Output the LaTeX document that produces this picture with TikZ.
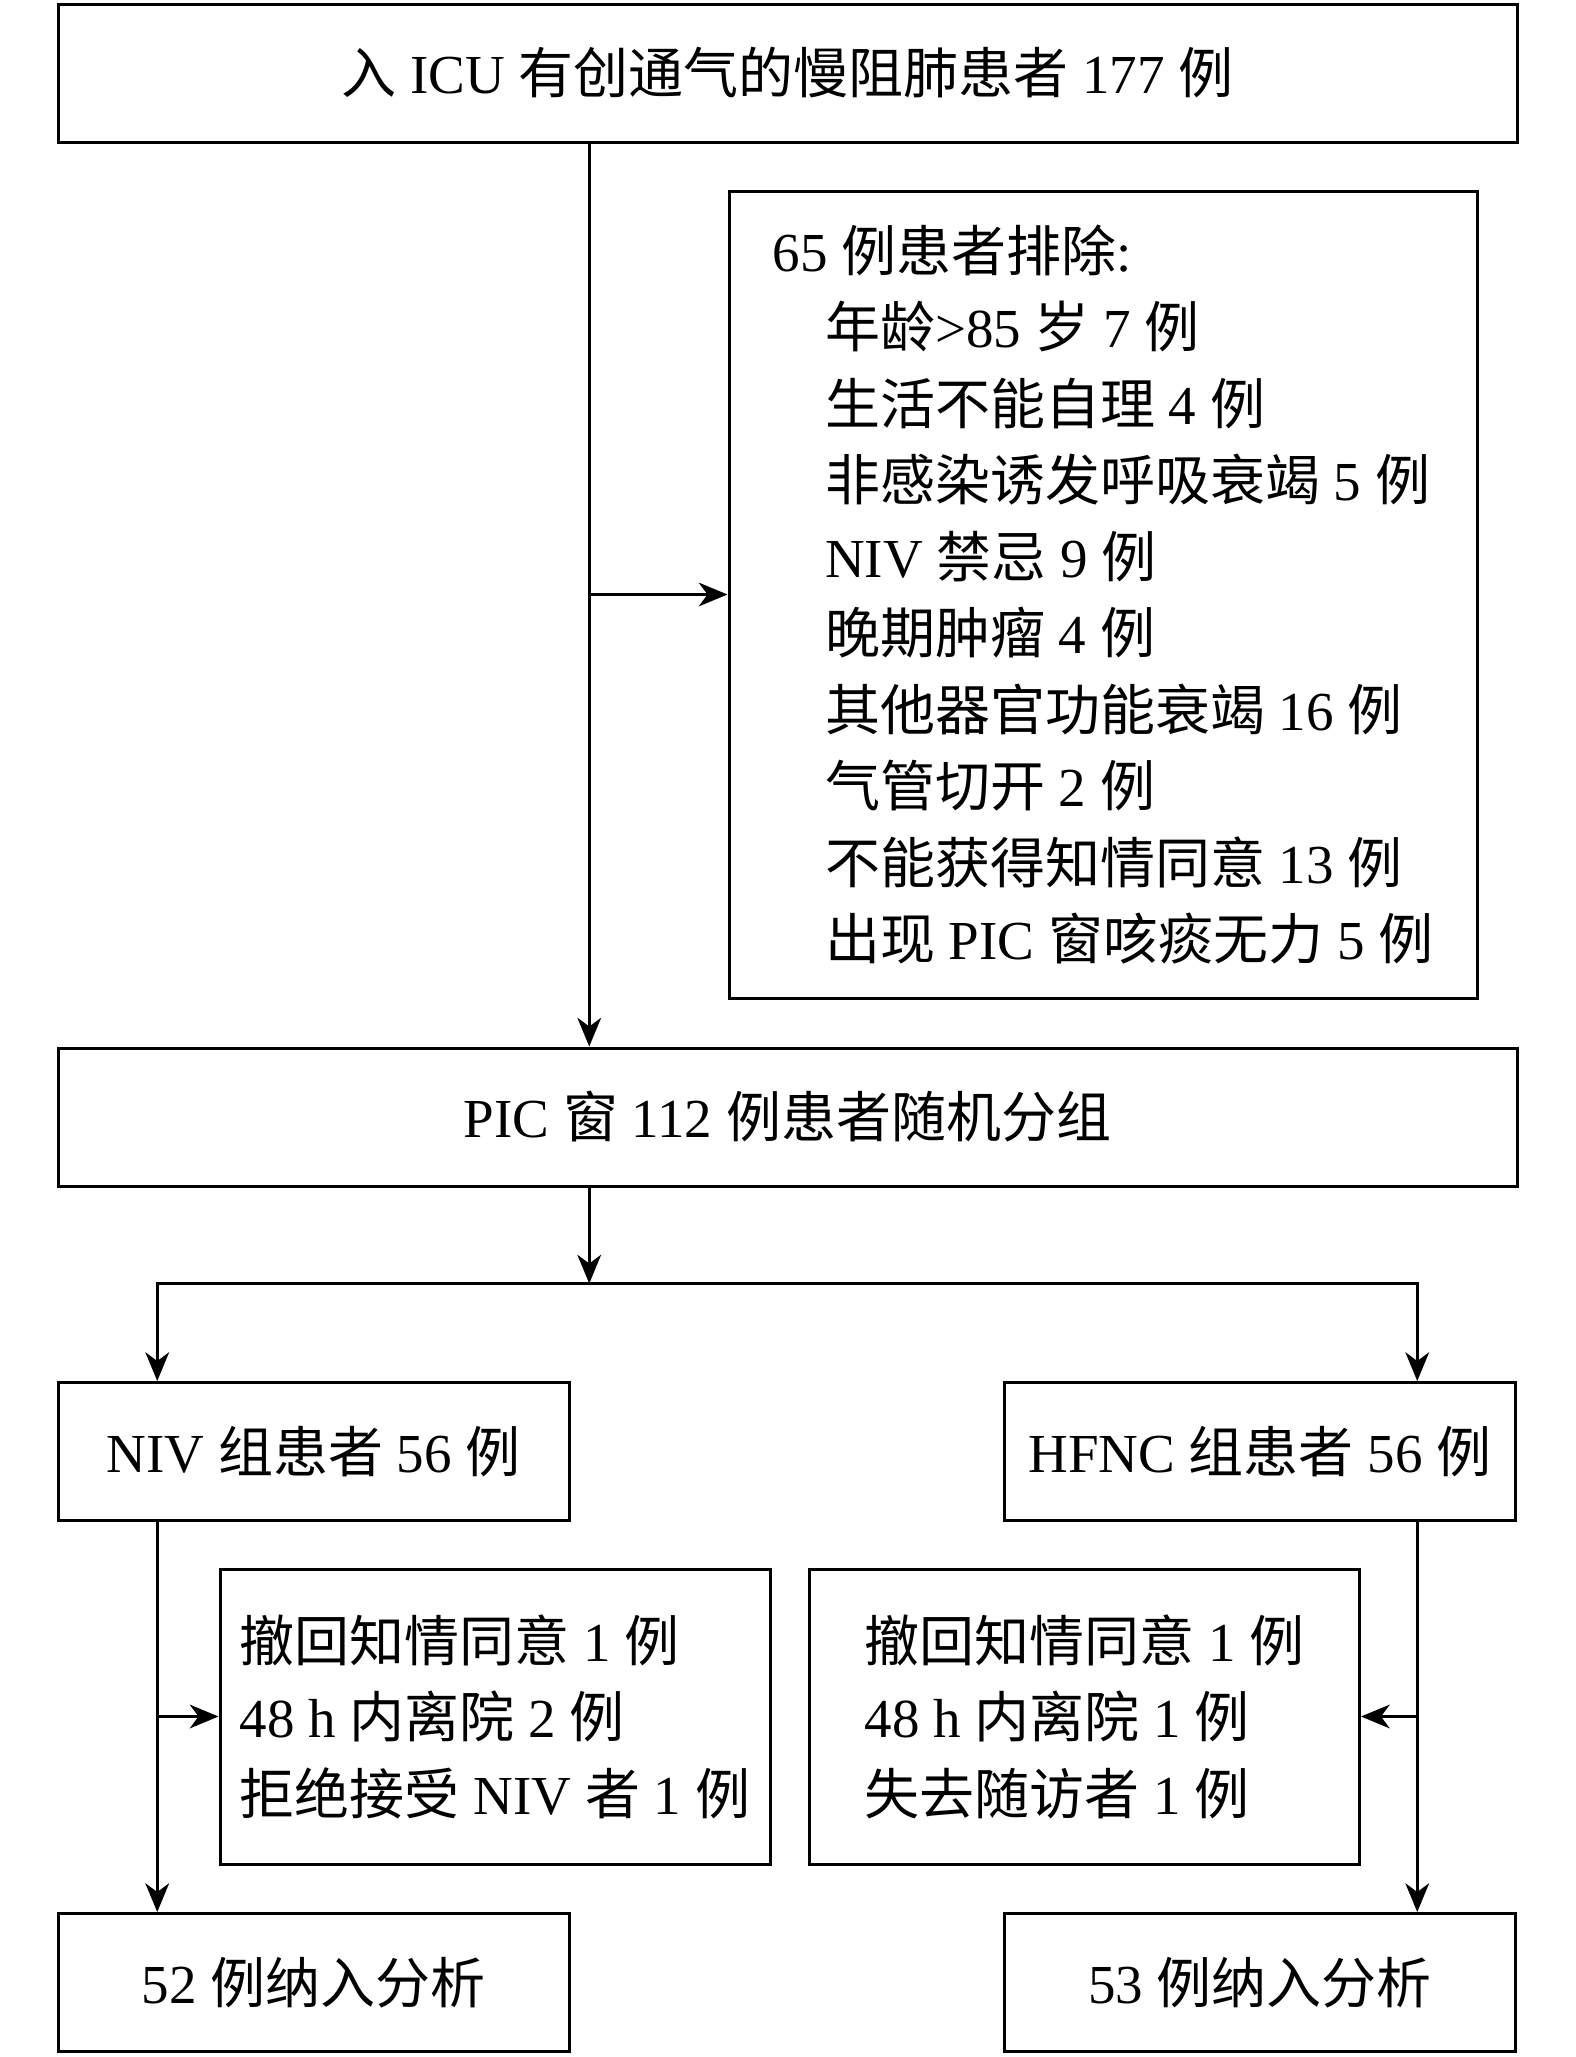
\documentclass[tikz,border=0pt]{standalone}
\usepackage{fontspec}
\setmainfont{Liberation Serif}
\newfontfamily\cjk{Noto Sans CJK SC}
\newcommand{\zh}[1]{{\cjk #1}}
\newcommand{\indt}{\hspace*{21pt}}
\usetikzlibrary{arrows.meta}

\begin{document}
\begin{tikzpicture}[x=1pt,y=-1pt,
		every node/.style={font=\fontsize{22}{30.6}\selectfont},
		box/.style={draw, line width=1.2pt, inner sep=0pt, align=center},
		wide/.style={box, minimum width=583.6pt, minimum height=55.2pt},
		half/.style={box, minimum width=204.4pt, minimum height=55.2pt},
		list/.style={box, align=left, minimum height=118pt, minimum width=220pt},
		arr/.style={-{Stealth[length=11.5pt,width=9.5pt,inset=3.5pt]}, line width=1pt},
	]
	\useasboundingbox (0,0) rectangle (630,822.8);

	\node[wide] (adm) at (315,29.2) {\zh{入} ICU \zh{有创通气的慢阻肺患者} 177 \zh{例}};
	\node[box, align=left, minimum width=299.2pt, minimum height=322.8pt] (excl) at (441.2,237.8)
		{65 \zh{例患者排除}:\\
		\indt\zh{年龄}>85 \zh{岁} 7 \zh{例}\\
		\indt\zh{生活不能自理} 4 \zh{例}\\
		\indt\zh{非感染诱发呼吸衰竭} 5 \zh{例}\\
		\indt NIV \zh{禁忌} 9 \zh{例}\\
		\indt\zh{晚期肿瘤} 4 \zh{例}\\
		\indt\zh{其他器官功能衰竭} 16 \zh{例}\\
		\indt\zh{气管切开} 2 \zh{例}\\
		\indt\zh{不能获得知情同意} 13 \zh{例}\\
		\indt\zh{出现} PIC \zh{窗咳痰无力} 5 \zh{例}};
	\node[wide] (rand) at (315,446.8) {PIC \zh{窗} 112 \zh{例患者随机分组}};

	\node[half] (niv) at (125.4,580.6) {NIV \zh{组患者} 56 \zh{例}};
	\node[half] (hfnc) at (504,580.6) {HFNC \zh{组患者} 56 \zh{例}};

	\node[list] (lossL) at (198,686.6)
		{\zh{撤回知情同意} 1 \zh{例}\\
		48 h \zh{内离院} 2 \zh{例}\\
		\zh{拒绝接受} NIV \zh{者} 1 \zh{例}};
	\node[list] (lossR) at (433.8,686.6)
		{\zh{撤回知情同意} 1 \zh{例}\\
		48 h \zh{内离院} 1 \zh{例}\\
		\zh{失去随访者} 1 \zh{例}};

	\node[half] (anaL) at (125.4,793) {52 \zh{例纳入分析}};
	\node[half] (anaR) at (504,793) {53 \zh{例纳入分析}};

	% trunk and branch points
	\coordinate (trunk) at (235.7,0);
	\coordinate (split) at (235.7,513.4);
	\coordinate (colL) at (62.9,0);
	\coordinate (colR) at (566.9,0);

	\draw[arr] (adm.south -| trunk) -- (rand.north -| trunk);
	\draw[arr] (excl.west -| trunk) -- (excl.west);
	\draw[arr] (rand.south -| trunk) -- (split);
	\draw[arr] (split) -| (niv.north -| colL);
	\draw[arr] (split) -| (hfnc.north -| colR);
	%
	\draw[arr] (niv.south -| colL) -- (anaL.north -| colL);
	\draw[arr] (lossL.west -| colL) -- (lossL.west);
	\draw[arr] (hfnc.south -| colR) -- (anaR.north -| colR);
	\draw[arr] (lossR.east -| colR) -- (lossR.east);
\end{tikzpicture}
\end{document}
